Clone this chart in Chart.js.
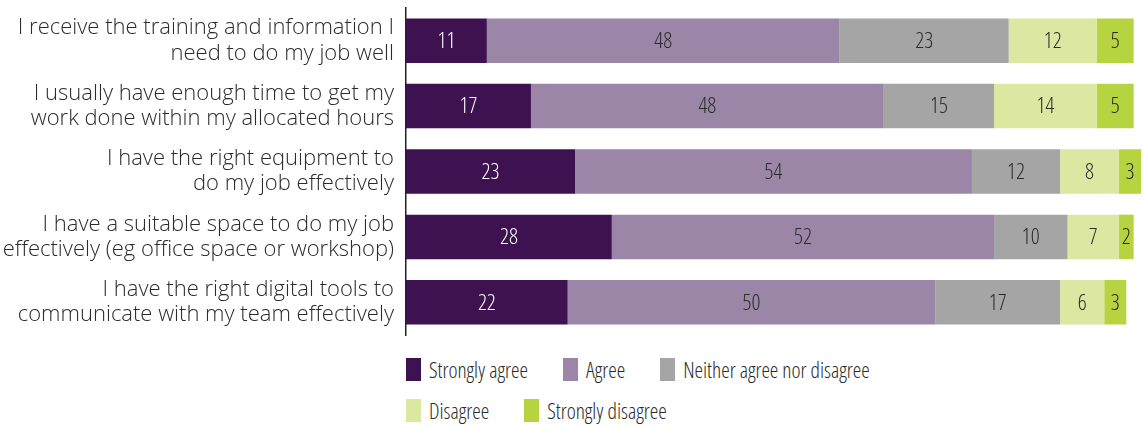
<!DOCTYPE html>
<html>
<head>
<meta charset="utf-8">
<script src="https://cdn.jsdelivr.net/npm/chart.js@4.4.0/dist/chart.umd.min.js"></script>
<style>
  body { margin: 0; background: #fff; }
  #wrap { position: relative; width: 1143px; height: 427px; }
  #legend { position: absolute; left: 406px; top: 358px; color: #2b2b2b; font-size: 21.5px; font-family: 'Open Sans', sans-serif; font-weight: 300; font-stretch: 75%; }
  .row { display: flex; height: 23px; margin-bottom: 18px; }
  .item { display: flex; align-items: center; margin-right: 35px; }
  .box { width: 15px; height: 23px; margin-right: 8px; }
</style>
</head>
<body>
<div id="wrap">
  <canvas id="chart" width="1143" height="345"></canvas>
  <div id="legend"></div>
</div>
<script>
const questions = [
  ['I receive the training and information I', 'need to do my job well'],
  ['I usually have enough time to get my', 'work done within my allocated hours'],
  ['I have the right equipment to', 'do my job effectively'],
  ['I have a suitable space to do my job', 'effectively (eg office space or workshop)'],
  ['I have the right digital tools to', 'communicate with my team effectively']
];
const responses = ['Strongly agree', 'Agree', 'Neither agree nor disagree', 'Disagree', 'Strongly disagree'];
const colours = ['#3e1150', '#9c86a8', '#a5a5a5', '#dce8a2', '#b6d340'];
const labelColours = ['#ffffff', '#2b2b2b', '#2b2b2b', '#2b2b2b', '#2b2b2b'];

const stronglyAgree = [11, 17, 23, 28, 22];
const agree = [48, 48, 54, 52, 50];
const neither = [23, 15, 12, 10, 17];
const disagree = [12, 14, 8, 7, 6];
const stronglyDisagree = [5, 5, 3, 2, 3];
const seriesValues = [stronglyAgree, agree, neither, disagree, stronglyDisagree];

const TICK_FONT = "'Open Sans', sans-serif";

// write each value in the middle of its segment
const segmentLabels = {
  id: 'segmentLabels',
  afterDatasetsDraw(chart) {
    const ctx = chart.ctx;
    ctx.save();
    ctx.font = '300 22px ' + TICK_FONT;
    ctx.fontStretch = 'condensed';
    ctx.textAlign = 'center';
    ctx.textBaseline = 'middle';
    chart.data.datasets.forEach((ds, i) => {
      const meta = chart.getDatasetMeta(i);
      meta.data.forEach((bar, j) => {
        ctx.fillStyle = labelColours[i];
        ctx.fillText(ds.data[j], (bar.x + bar.base) / 2, bar.y + 1);
      });
    });
    ctx.restore();
  }
};

const myChart = new Chart(document.getElementById('chart'), {
  type: 'bar',
  data: {
    labels: questions,
    datasets: responses.map((name, i) => ({
      label: name,
      data: seriesValues[i],
      backgroundColor: colours[i],
      borderWidth: 0,
      barPercentage: 0.68,
      categoryPercentage: 1
    }))
  },
  options: {
    indexAxis: 'y',
    responsive: false,
    animation: false,
    layout: { padding: { top: 8, bottom: 10, right: 2 } },
    plugins: { legend: { display: false }, tooltip: { enabled: false } },
    scales: {
      x: { stacked: true, min: 0, max: 100, display: false },
      y: {
        stacked: true,
        grid: { display: false, drawTicks: false },
        border: { display: true, color: '#222', width: 1.5 },
        ticks: {
          color: '#2b2b2b',
          padding: 12,
          font: { family: TICK_FONT, size: 22, weight: 300, lineHeight: 1.14 }
        },
        afterFit(scale) {
          // fixed label column, no extra room for the two-line labels
          scale.width = 406;
          scale.paddingTop = 0;
          scale.paddingBottom = 0;
        }
      }
    }
  },
  plugins: [segmentLabels]
});

// legend in two rows under the bars
const legend = document.getElementById('legend');
[[0, 1, 2], [3, 4]].forEach(idx => {
  const row = document.createElement('div');
  row.className = 'row';
  idx.forEach(i => {
    const item = document.createElement('div');
    item.className = 'item';
    item.innerHTML = '<span class="box" style="background:' + colours[i] + '"></span><span>' + responses[i] + '</span>';
    row.appendChild(item);
  });
  legend.appendChild(row);
});
</script>
</body>
</html>
